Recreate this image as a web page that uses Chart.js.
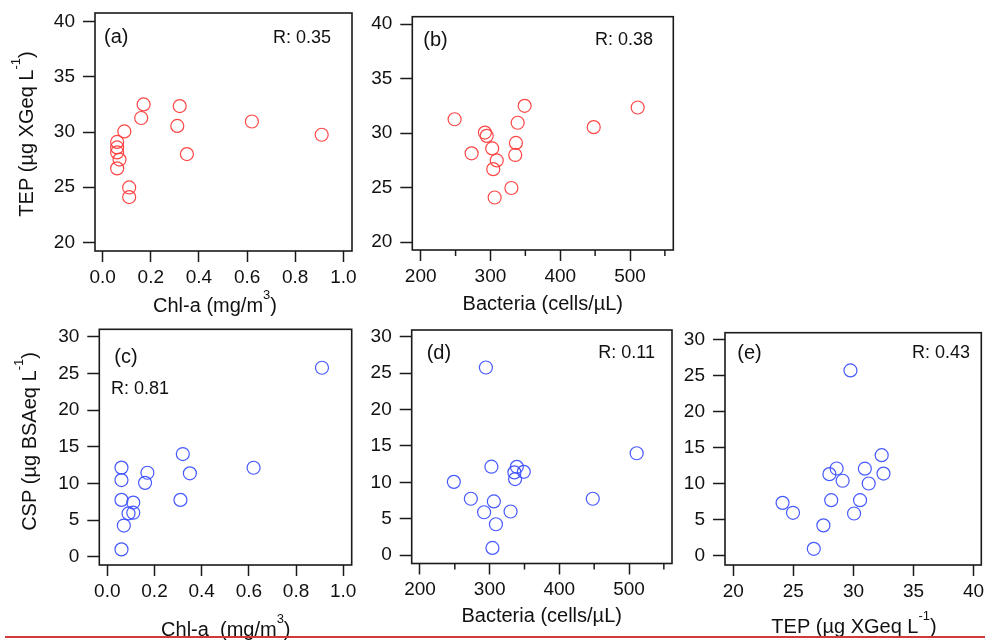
<!DOCTYPE html>
<html><head><meta charset="utf-8">
<script src="https://cdn.jsdelivr.net/npm/chart.js@4.4.1/dist/chart.umd.min.js"></script>
<style>
html,body{margin:0;padding:0;background:#fff;width:989px;height:642px;overflow:hidden}
body{position:relative}
.w{position:absolute}
#redline{position:absolute;left:5px;top:636px;width:980px;height:2px;background:#d2393b;z-index:10}
</style></head><body>
<div id="redline"></div>
<script>
// ---- data (15 samples) ----
const chlA     = [0.06, 0.06, 0.06, 0.07, 0.06, 0.09, 0.11, 0.11, 0.16, 0.17, 0.31, 0.32, 0.35, 0.62, 0.91];
const bacteria = [302.5, 336.5, 273, 309, 304, 292, 306, 330, 248.6, 349, 448, 511, 335.5, 339, 294.6];
const tep      = [28.6, 29.1, 28.15, 27.5, 26.7, 30.05, 24.1, 24.97, 31.27, 32.5, 30.55, 32.35, 28.0, 30.95, 29.75];
const csp      = [12.15, 10.45, 7.75, 4.25, 1.0, 5.9, 7.38, 6.0, 10.07, 11.45, 7.75, 14.0, 11.37, 12.13, 25.77];
const rLabels  = ['R: 0.35', 'R: 0.38', 'R: 0.81', 'R: 0.11', 'R: 0.43'];
const panelLetters = ['(a)', '(b)', '(c)', '(d)', '(e)'];
// ---- tick labels ----
const chlTicks = [0, 0.2, 0.4, 0.6, 0.8, 1.0];
const bacTicks = [200, 300, 400, 500];
const bacMinorTicks = [250, 350, 450, 550];
const tepTicks = [20, 25, 30, 35, 40];
const cspTicks = [0, 5, 10, 15, 20, 25, 30];

const RED = 'rgba(255,60,60,0.95)';
const BLUE = 'rgba(60,80,255,0.95)';
const FONT = "'Liberation Sans', Arial, sans-serif";
const INK = '#111';

const tepTitle = [['TEP (µg XGeq L',0],['-1',1],[')',0]];
const cspTitle = [['CSP (µg BSAeq L',0],['-1',1],[')',0]];

const panels = [
  {box:[0,-12,372,322], frame:[95,13,352,251], xr:[-0.032,1.036], yr:[19.21,40.79],
   xt:chlTicks, yt:tepTicks, fmt:v=>v.toFixed(1), xs:chlA, ys:tep, color:RED,
   letter:[104,42.5], r:[331,42.7,'right'],
   xTitle:{parts:[['Chl-a (mg/m',0],['3',1],[')',0]], x:215, y:312},
   yTitle:{parts:tepTitle, x:32.6, y:134}},
  {box:[352,-12,693,322], frame:[412.3,16.7,673.3,250], xr:[187.96,562.06], yr:[19.29,40.67],
   xt:bacTicks, minor:bacMinorTicks, yt:tepTicks, fmt:v=>String(v), xs:bacteria, ys:tep, color:RED,
   letter:[423.3,45.8], r:[653,45,'right'],
   xTitle:{parts:[['Bacteria (cells/µL)',0]], x:542.8, y:310}},
  {box:[0,300,372,642], frame:[99.3,329.3,351.7,565], xr:[-0.034,1.036], yr:[-1.13,31.01],
   xt:chlTicks, yt:cspTicks, fmt:v=>v.toFixed(1), xs:chlA, ys:csp, color:BLUE,
   letter:[114.3,362.5], r:[111,394,'left'],
   xTitle:{parts:[['Chl-a  (mg/m',0],['3',1],[')',0]], x:225.8, y:636},
   yTitle:{parts:cspTitle, x:36, y:441.5}},
  {box:[352,300,693,642], frame:[411.7,330,672,563.5], xr:[188.1,561.7], yr:[-1.14,30.92],
   xt:bacTicks, minor:bacMinorTicks, yt:cspTicks, fmt:v=>String(v), xs:bacteria, ys:csp, color:BLUE,
   letter:[426.7,358.8], r:[655,358.3,'right'],
   xTitle:{parts:[['Bacteria (cells/µL)',0]], x:541.7, y:621.7}},
  {box:[665,300,989,642], frame:[725,332.7,982.7,565], xr:[19.31,40.64], yr:[-1.25,31.01],
   xt:tepTicks, yt:cspTicks, fmt:v=>String(v), xs:tep, ys:csp, color:BLUE,
   letter:[737.3,359], r:[970,357.7,'right'],
   xTitle:{parts:tepTitle, x:854, y:633}}
];

function drawRich(ctx, parts, x, y, rot) {
  ctx.save();
  ctx.translate(x, y);
  if (rot) ctx.rotate(-Math.PI / 2);
  let total = 0;
  const widths = parts.map(([t, s]) => {
    ctx.font = (s ? 13 : 20) + 'px ' + FONT;
    const w = ctx.measureText(t).width; total += w; return w;
  });
  let cx = -total / 2;
  ctx.textBaseline = 'alphabetic'; ctx.textAlign = 'left'; ctx.fillStyle = INK;
  parts.forEach(([t, s], i) => {
    ctx.font = (s ? 13 : 20) + 'px ' + FONT;
    ctx.fillText(t, cx, s ? -13 : 0);
    cx += widths[i];
  });
  ctx.restore();
}

const redline = document.getElementById('redline');

panels.forEach((p, idx) => {
  const [bl, bt, br, bb] = p.box;
  const [fl, ft, fr, fb] = p.frame;
  const Wy = fl - bl, padT = ft - bt, padR = br - fr, Hx = bb - fb;
  const div = document.createElement('div');
  div.className = 'w';
  div.style.left = bl + 'px'; div.style.top = bt + 'px';
  div.style.width = (br - bl) + 'px'; div.style.height = (bb - bt) + 'px';
  const cv = document.createElement('canvas');
  div.appendChild(cv);
  document.body.insertBefore(div, redline);

  const deco = {
    id: 'deco' + idx,
    afterDraw(chart) {
      const ctx = chart.ctx, a = chart.chartArea;
      ctx.save();
      ctx.strokeStyle = '#1a1a1a'; ctx.lineWidth = 1.6;
      ctx.strokeRect(a.left, a.top, a.right - a.left, a.bottom - a.top);
      if (p.minor) {
        const xs = chart.scales.x;
        ctx.lineWidth = 1.5;
        p.minor.forEach(v => {
          const px = xs.getPixelForValue(v);
          ctx.beginPath(); ctx.moveTo(px, a.bottom); ctx.lineTo(px, a.bottom + 6); ctx.stroke();
        });
      }
      ctx.fillStyle = INK;
      ctx.textBaseline = 'alphabetic';
      ctx.font = '20px ' + FONT; ctx.textAlign = 'left';
      ctx.fillText(panelLetters[idx], p.letter[0] - bl, p.letter[1] - bt);
      ctx.font = '18px ' + FONT; ctx.textAlign = p.r[2];
      ctx.fillText(rLabels[idx], p.r[0] - bl, p.r[1] - bt);
      drawRich(ctx, p.xTitle.parts, p.xTitle.x - bl, p.xTitle.y - bt, false);
      if (p.yTitle) drawRich(ctx, p.yTitle.parts, p.yTitle.x - bl, p.yTitle.y - bt, true);
      ctx.restore();
    }
  };

  new Chart(cv, {
    type: 'scatter',
    data: { datasets: [{
      data: p.xs.map((v, i) => ({ x: v, y: p.ys[i] })),
      pointRadius: 6.5, pointBorderWidth: 1.2,
      pointBorderColor: p.color, pointBackgroundColor: 'rgba(0,0,0,0)',
      showLine: false
    }]},
    options: {
      responsive: true, maintainAspectRatio: false, animation: false, events: [],
      layout: { padding: { top: padT, right: padR, left: 0, bottom: 0 } },
      plugins: { legend: { display: false }, tooltip: { enabled: false } },
      scales: {
        x: {
          type: 'linear', min: p.xr[0], max: p.xr[1],
          afterBuildTicks: s => { s.ticks = p.xt.map(v => ({ value: v })); },
          afterFit: s => { s.height = Hx; },
          border: { display: false },
          grid: { drawOnChartArea: false, drawTicks: true, tickLength: 11, tickColor: '#1a1a1a', tickWidth: 1.5 },
          ticks: { autoSkip: false, maxRotation: 0, padding: 4, color: INK,
                   font: { family: FONT, size: 19 }, callback: v => p.fmt(v) }
        },
        y: {
          type: 'linear', min: p.yr[0], max: p.yr[1],
          afterBuildTicks: s => { s.ticks = p.yt.map(v => ({ value: v })); },
          afterFit: s => { s.width = Wy; },
          border: { display: false },
          grid: { drawOnChartArea: false, drawTicks: true, tickLength: 12, tickColor: '#1a1a1a', tickWidth: 1.5 },
          ticks: { autoSkip: false, padding: 8, color: INK,
                   font: { family: FONT, size: 19 }, callback: v => String(v) }
        }
      }
    },
    plugins: [deco]
  });
});
</script>
</body></html>
